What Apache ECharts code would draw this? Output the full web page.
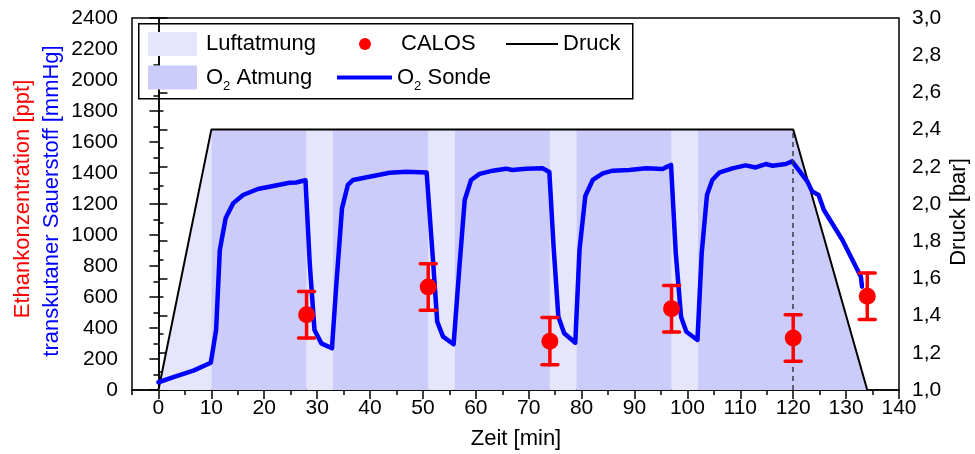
<!DOCTYPE html>
<html><head><meta charset="utf-8">
<script src="https://cdn.jsdelivr.net/npm/echarts@6/dist/echarts.min.js"></script>
<style>html,body{margin:0;padding:0;background:#fff}#c{width:975px;height:454px}</style>
</head><body><div id="c"></div><script>
// ---- data ----
const xTickValues = [0,10,20,30,40,50,60,70,80,90,100,110,120,130,140];
const sondeTime = [0,3.4,6.6,9.9,10.9,11.6,12.7,14.1,16.0,18.8,21.7,24.8,26,27.8,28.6,29.5,30.8,32.8,33.6,34.7,35.8,36.8,40.6,43.7,46.9,50.7,51.9,52.7,53.8,55.8,56.9,57.9,59.1,60.7,63.2,65.7,66.9,69.5,72.6,73.9,74.7,75.6,76.7,78.8,79.6,80.7,82.1,84.0,85.9,89.0,92.2,95.3,96.2,96.9,97.8,98.8,99.8,101.9,102.7,103.7,104.7,106.0,108.5,111.0,112.9,114.8,116.1,118.6,119.8,122.7,123.6,124.8,125.8,129.3,132.8,133.0];
const sondeValue = [50,90,125,176,387,903,1108,1204,1258,1297,1316,1337,1339,1353,817,387,301,269,667,1172,1323,1355,1381,1402,1408,1404,839,441,344,295,796,1226,1355,1394,1415,1428,1419,1428,1430,1406,925,473,366,305,903,1252,1355,1398,1415,1420,1430,1426,1441,1452,882,473,376,323,882,1258,1355,1402,1430,1449,1436,1458,1447,1458,1475,1344,1280,1258,1161,968,731,667];
const calosTime = [28,51,74,97,120,134];
const calosValue = [485,665,315,525,335,605];
const calosError = [150,150,152,150,150,150];
const pressureTime = [0,10,120,134];
const pressureValue = [1.0,2.4,2.4,1.0];
const airIntervals = [[0,10],[28,33],[51,56],[74,79],[97,102]];
const o2Intervals = [[10,28],[33,51],[56,74],[79,97],[102,134]];
const markerTime = 120;

// ---- styles ----
const FONT = 'Liberation Sans, Arial, sans-serif';
const airColor = '#E5E5FC';
const o2Color = '#CCCCFB';

function pAt(t){
  for (let i=0;i<pressureTime.length-1;i++){
    const a=pressureTime[i], b=pressureTime[i+1];
    if (t>=a && t<=b) return pressureValue[i]+(pressureValue[i+1]-pressureValue[i])*(t-a)/(b-a);
  }
  return pressureValue[pressureValue.length-1];
}
function areaPts(iv){
  const pts=[[iv[0],pAt(iv[0])]];
  pressureTime.forEach((t,i)=>{ if(t>iv[0]&&t<iv[1]) pts.push([t,pressureValue[i]]); });
  pts.push([iv[1],pAt(iv[1])]);
  return pts;
}
function areaSeries(name,color,iv){
  return {name, type:'line', xAxisIndex:0, yAxisIndex:1, data:areaPts(iv), symbol:'none',
    lineStyle:{width:0,color}, itemStyle:{color}, areaStyle:{color,opacity:1,origin:'start'},
    z:1, silent:true};
}

const series = [];
airIntervals.forEach(iv=>series.push(areaSeries('Luftatmung',airColor,iv)));
o2Intervals.forEach(iv=>series.push(areaSeries('O2 Atmung',o2Color,iv)));
series.push({name:'Druck', type:'line', xAxisIndex:0, yAxisIndex:1,
  data:pressureTime.map((t,i)=>[t,pressureValue[i]]), symbol:'none',
  lineStyle:{color:'#000',width:2}, itemStyle:{color:'#000'}, z:3,
  markLine:{silent:true, symbol:'none', label:{show:false},
    lineStyle:{type:[5,4],color:'#3a3a4a',width:1.5},
    data:[[{coord:[markerTime,pressureValue[0]]},{coord:[markerTime,pAt(markerTime)]}]]}});
series.push({name:'O2 Sonde', type:'line', xAxisIndex:0, yAxisIndex:0,
  data:sondeTime.map((t,i)=>[t,sondeValue[i]]), symbol:'none', showSymbol:false,
  lineStyle:{color:'#0000FF',width:4.5,cap:'round',join:'round'}, itemStyle:{color:'#0000FF'}, z:4});
series.push({name:'CALOS-err', type:'custom', xAxisIndex:0, yAxisIndex:0, z:5, silent:true,
  data:calosTime.map((t,i)=>[t,calosValue[i]-calosError[i],calosValue[i]+calosError[i]]),
  renderItem:function(params,api){
    const x=api.value(0), lo=api.coord([x,api.value(1)]), hi=api.coord([x,api.value(2)]);
    const w=8, st={stroke:'#FF0000',lineWidth:3.5,lineCap:'round'};
    return {type:'group',children:[
      {type:'line',shape:{x1:lo[0],y1:lo[1],x2:hi[0],y2:hi[1]},style:st},
      {type:'line',shape:{x1:lo[0]-w,y1:lo[1],x2:lo[0]+w,y2:lo[1]},style:st},
      {type:'line',shape:{x1:hi[0]-w,y1:hi[1],x2:hi[0]+w,y2:hi[1]},style:st}
    ]};
  }});
series.push({name:'CALOS', type:'scatter', xAxisIndex:0, yAxisIndex:0,
  data:calosTime.map((t,i)=>[t,calosValue[i]]), symbol:'circle', symbolSize:17,
  itemStyle:{color:'#FF0000',opacity:1}, z:6});

const legTxt = {fontFamily:FONT,fontSize:22,color:'#000',lineHeight:24,padding:[0,0,0,4],
  rich:{a:{fontFamily:FONT,fontSize:22,lineHeight:24,color:'#000'},
        s:{fontFamily:FONT,fontSize:13,lineHeight:13,padding:[18,0,0,0],color:'#000'}}};
const o2fmt = n => n.indexOf('O2')===0 ? '{a|O}{s|2}{a|'+n.slice(2)+'}' : n;
function leg(name,left,top,w,h,extra){
  return Object.assign({show:true,left,top,padding:0,itemWidth:w,itemHeight:h,selectedMode:false,
    textStyle:legTxt, formatter:o2fmt, data:[name]},extra||{});
}

const axisTxt = {fontFamily:FONT,fontSize:21,color:'#000'};
const option = {
  animation:false,
  backgroundColor:'#fff',
  grid:{left:132,right:76,top:18,bottom:64,show:true,borderColor:'#000',borderWidth:1.5,backgroundColor:'transparent'},
  xAxis:[
    {type:'value',min:-5,max:140,interval:5,position:'bottom',
     axisLine:{show:true,onZero:false,lineStyle:{color:'#000',width:1.5}},
     axisTick:{show:true,length:9,lineStyle:{color:'#000',width:1.5},customValues:xTickValues},
     axisLabel:{show:true,margin:8,customValues:xTickValues,...axisTxt,
       formatter:v=>(v%10===0&&v>=0)?String(v):''},
     splitLine:{show:false}},
    {type:'value',min:-5,max:140,interval:5,position:'bottom',
     axisLine:{show:false,onZero:false},
     axisTick:{show:true,length:5,lineStyle:{color:'#000',width:1.5}},
     axisLabel:{show:false},splitLine:{show:false}}
  ],
  yAxis:[
    {type:'value',min:0,max:2400,interval:200,position:'left',
     axisLine:{show:true,lineStyle:{color:'#000',width:1.5}},
     axisTick:{show:true,length:9,lineStyle:{color:'#000',width:1.5}},
     minorTick:{show:true,splitNumber:2,length:5,lineStyle:{color:'#000',width:1.5}},
     axisLabel:{margin:14,...axisTxt,formatter:v=>String(v)},splitLine:{show:false}},
    {type:'value',min:1.0,max:3.0,interval:0.2,position:'right',
     axisLine:{show:true,lineStyle:{color:'#000',width:1.5}},
     axisTick:{show:true,length:9,lineStyle:{color:'#000',width:1.5}},
     minorTick:{show:true,splitNumber:2,length:5,lineStyle:{color:'#000',width:1.5}},
     axisLabel:{margin:13,...axisTxt,formatter:v=>v.toFixed(1).replace('.',',')},splitLine:{show:false}}
  ],
  legend:[
    leg({name:'Luftatmung',icon:'rect',itemStyle:{color:airColor}},148,32,49,24),
    leg({name:'O2 Atmung',icon:'rect',itemStyle:{color:o2Color}},148,62,49,24),
    leg({name:'CALOS',icon:'circle',itemStyle:{color:'#FF0000',opacity:1}},359,32,54,12),
    leg({name:'O2 Sonde',icon:'rect',itemStyle:{color:'#0000FF'}},337,62,55,4,{textStyle:Object.assign({},legTxt,{padding:[0,0,0,0]})}),
    leg({name:'Druck',icon:'rect',itemStyle:{color:'#000'}},506,32,52,2,{textStyle:Object.assign({},legTxt,{padding:[0,0,0,0]})})
  ],
  graphic:[
    {type:'rect',left:138,top:23,shape:{width:494,height:75},style:{fill:'#fff',stroke:'#000',lineWidth:1.5},z:-1},
    {type:'text',x:23,y:199,rotation:Math.PI/2,style:{text:'Ethankonzentration [ppt]',fill:'#FF0000',font:'22px '+FONT,align:'center',verticalAlign:'middle'}},
    {type:'text',x:52,y:201,rotation:Math.PI/2,style:{text:'transkutaner Sauerstoff [mmHg]',fill:'#0000FF',font:'22px '+FONT,align:'center',verticalAlign:'middle'}},
    {type:'text',x:959,y:212,rotation:Math.PI/2,style:{text:'Druck [bar]',fill:'#000',font:'22px '+FONT,align:'center',verticalAlign:'middle'}},
    {type:'text',x:516,y:439,style:{text:'Zeit [min]',fill:'#000',font:'22px '+FONT,align:'center',verticalAlign:'middle'}}
  ],
  series
};
const chart = echarts.init(document.getElementById('c'),null,{renderer:'canvas'});
chart.setOption(option);
</script></body></html>
